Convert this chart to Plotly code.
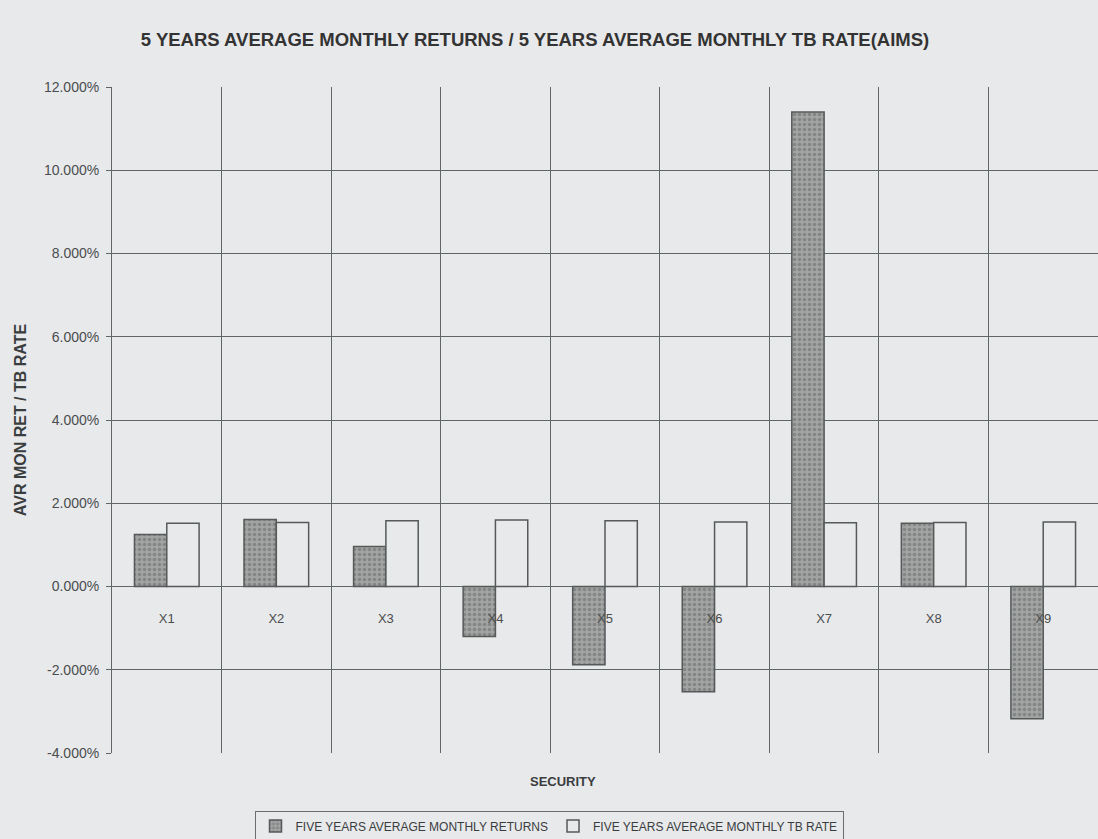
import plotly.graph_objects as go

securities = ["X1", "X2", "X3", "X4", "X5", "X6", "X7", "X8", "X9"]
avg_returns = [1.25, 1.61, 0.96, -1.20, -1.88, -2.53, 11.40, 1.52, -3.18]
avg_tb_rate = [1.52, 1.54, 1.58, 1.60, 1.58, 1.55, 1.53, 1.54, 1.55]
y_ticks = [-4, -2, 0, 2, 4, 6, 8, 10, 12]
y_tick_labels = ["%.3f%%" % v for v in y_ticks]

bg = "#e8e9eb"
grid = "#5f6664"
txt = "#3a3d3e"
FONT = "Liberation Sans, Arial, sans-serif"

fig = go.Figure()
fig.add_trace(go.Bar(
    x=securities, y=avg_returns, name="FIVE YEARS AVERAGE MONTHLY RETURNS",
    marker=dict(color="#9a9c9c", line=dict(color="#555a59", width=1.5),
                pattern=dict(shape=".", fgcolor="#626665", bgcolor="#a2a4a3", size=5, solidity=0.4)),
))
fig.add_trace(go.Bar(
    x=securities, y=avg_tb_rate, name="FIVE YEARS AVERAGE MONTHLY TB RATE",
    marker=dict(color=bg, line=dict(color="#555a59", width=1.5)),
))

fig.update_layout(
    width=1098, height=839,
    margin=dict(l=112, r=0, t=87, b=86),
    paper_bgcolor=bg, plot_bgcolor=bg,
    barmode="group", bargap=0.41, bargroupgap=0,
    font=dict(family=FONT, color=txt, size=12),
    title=dict(text="<b>5 YEARS AVERAGE MONTHLY RETURNS / 5 YEARS AVERAGE MONTHLY TB RATE(AIMS)</b>",
               x=535/1098, xanchor="center", y=1-40/839, yanchor="middle",
               font=dict(size=18.5, color="#333")),
    showlegend=True,
    legend=dict(orientation="h", x=(549-112)/986, xanchor="center",
                yref="container", y=(839-826)/839, yanchor="middle",
                bordercolor="#6a6e6d", borderwidth=1, bgcolor=bg,
                font=dict(size=12, color=txt), itemwidth=30,
                tracegroupgap=0),
)

fig.update_xaxes(
    anchor="free", position=0.25,
    tickson="boundaries", showgrid=True, gridcolor=grid, gridwidth=1,
    showline=False, ticks="", ticklabelstandoff=22,
    tickfont=dict(size=13, color="#4a4d4e"),
    range=[-0.5, 8.5],
)
fig.update_yaxes(
    range=[-4, 12], tickvals=y_ticks, ticktext=y_tick_labels,
    showgrid=True, gridcolor=grid, gridwidth=1,
    zeroline=True, zerolinecolor=grid, zerolinewidth=1,
    showline=True, linecolor=grid, linewidth=1,
    ticks="outside", ticklen=5, tickcolor=grid, ticklabelstandoff=4,
    tickfont=dict(size=14, color="#4a4d4e"),
    title=dict(text="<b>AVR MON RET / TB RATE</b>", font=dict(size=16, color=txt), standoff=13),
)

fig.add_annotation(text="<b>SECURITY</b>", xref="paper", yref="paper",
                   x=(563-112)/986, y=-(781-753)/666, xanchor="center", yanchor="middle",
                   showarrow=False, font=dict(size=13, color=txt))

fig.write_html("out.html")
